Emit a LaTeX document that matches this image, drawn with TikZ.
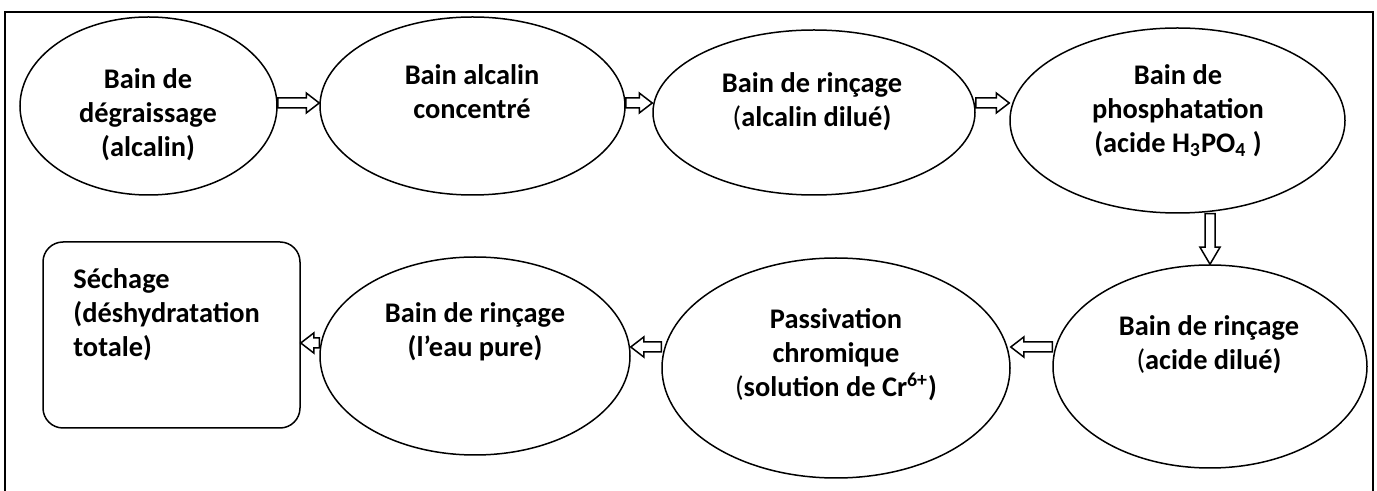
\documentclass[tikz,border=0pt]{standalone}
\usepackage{fontspec}
\setmainfont{Carlito}
\usetikzlibrary{calc,backgrounds,shapes.geometric}
\begin{document}
\begin{tikzpicture}[x=0.5pt,y=-0.5pt,
  frame/.style={draw=black, line width=1pt},
  ell/.style={draw=black, line width=0.75pt, ellipse, inner sep=0pt},
  boxs/.style={draw=black, line width=0.75pt, rectangle, rounded corners=10pt, inner sep=0pt},
  txt/.style={font=\fontsize{14.2}{17}\selectfont\bfseries, align=center, inner sep=0pt},
  blk/.style={draw=black, line width=0.75pt, fill=white, line join=miter,
    to path={let \p1=(\tikztostart), \p2=(\tikztotarget),
      \n1={atan2(\y2-\y1,\x2-\x1)}, \n2={veclen(\x2-\x1,\y2-\y1)-#1} in
      ($(\p1)+({\n1+90}:2.5pt)$)
      -- ($(\p1)+(\n1:{\n2*1pt})+({\n1+90}:2.5pt)$)
      -- ($(\p1)+(\n1:{\n2*1pt})+({\n1+90}:5pt)$)
      -- (\p2)
      -- ($(\p1)+(\n1:{\n2*1pt})+({\n1-90}:5pt)$)
      -- ($(\p1)+(\n1:{\n2*1pt})+({\n1-90}:2.5pt)$)
      -- ($(\p1)+({\n1-90}:2.5pt)$) -- cycle}},
  blk/.default=6.5]
\useasboundingbox (0,0) rectangle (1377,491);
\draw[frame] (5,491) -- (5,12) -- (1373,12) -- (1373,491);

% shapes
\node[ell, minimum width=128.5pt, minimum height=89pt] (e1) at (148.5,106) {};
\node[ell, minimum width=152.5pt, minimum height=89pt] (e2) at (472.5,106) {};
\node[ell, minimum width=161pt, minimum height=82.5pt] (e3) at (814,112.5) {};
\node[ell, minimum width=167.5pt, minimum height=92.5pt] (e4) at (1177.5,120.5) {};
\node[ell, minimum width=157pt, minimum height=101.5pt] (e5) at (1210,366.5) {};
\node[ell, minimum width=174pt, minimum height=110pt] (e6) at (836,368) {};
\node[ell, minimum width=155pt, minimum height=99pt] (e7) at (475,356) {};
\node[boxs, minimum width=128.5pt, minimum height=93pt] (b8) at (171.5,335) {};

% texts
\node[txt] (t1) at (148,115) {Bain de\\dégraissage\\(alcalin)};
\node[txt] (t2) at (472,91.5) {Bain alcalin\\concentré};
\node[txt] (t3) at (812,101.5) {Bain de rinçage\\{\mdseries(}alcalin dilué)};
\node[txt] (t4) at (1178,110.5) {Bain de\\phosphatation\\(acide H\textsubscript{3}PO\textsubscript{4} )};
\node[txt] (t5) at (1209,344.5) {Bain de rinçage\\{\mdseries(}acide dilué)};
\node[txt] (t6) at (836,355) {Passivation\\chromique\\{\mdseries(}solution de Cr\textsuperscript{6+})};
\node[txt] (t7) at (475,331.5) {Bain de rinçage\\(l’eau pure)};
\node[txt, align=left, anchor=west] (t8) at (73,314.5) {Séchage\\(déshydratation\\totale)};

% connectors
\coordinate (r1) at (0,103);
\coordinate (r2) at (0,347);
\coordinate (r3) at (0,343);
\begin{scope}[on background layer]
\path[blk] (e1.east |- r1) to (e2.west |- r1);
\path[blk] (e2.east |- r1) to (e3.west |- r1);
\path[blk] (e3.east |- r1) to (e4.west |- r1);
\path[blk=8.5] (e4.south -| e5.north) to (e5.north);
\path[blk] (e5.west |- r2) to (e6.east |- r2);
\path[blk] (e6.west |- r2) to (e7.east |- r2);
\path[blk] (e7.west |- r3) to (b8.east |- r3);
\end{scope}
\end{tikzpicture}
\end{document}
